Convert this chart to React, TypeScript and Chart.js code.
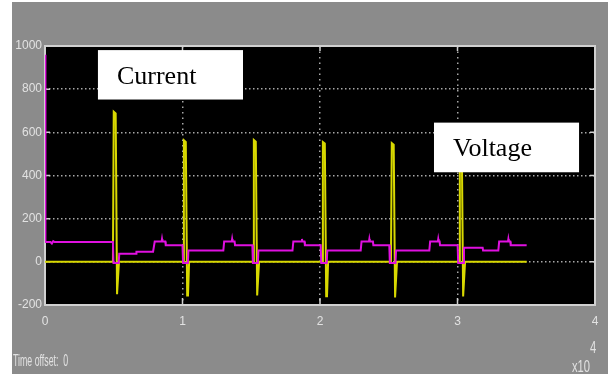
import React, { useEffect, useRef } from "react";
import { Chart, registerables } from "chart.js";

Chart.register(...registerables);

// ---- data (time in units of 1e-4 s) ----
const xTicks = [0, 1, 2, 3, 4];
const yTicks = [-200, 0, 200, 400, 600, 800, 1000];

const currentT = [
  0, 0.494, 0.5, 0.514, 0.524, 0.53, 0.538,
  1.004, 1.01, 1.024, 1.034, 1.04, 1.048,
  1.513, 1.519, 1.533, 1.543, 1.549, 1.557,
  2.015, 2.021, 2.035, 2.045, 2.051, 2.059,
  2.516, 2.522, 2.536, 2.546, 2.552, 2.56,
  3.011, 3.017, 3.031, 3.041, 3.047, 3.055,
  3.503,
];
const currentV = [
  0, 0, 696, 688, -150, -150, 0,
  0, 563, 555, -156, -156, 0,
  0, 565, 557, -156, -156, 0,
  0, 555, 548, -160, -160, 0,
  0, 550, 543, -165, -165, 0,
  0, 560, 552, -160, -160, 0,
  0,
];

const voltageT = [
  0, 0.003, 0.04, 0.05, 0.06, 0.07,
  0.494, 0.498, 0.536, 0.54, 0.662, 0.665, 0.786, 0.798, 0.848, 0.851, 0.854, 0.875, 0.878,
  1.0, 1.004, 1.039, 1.043, 1.297, 1.303, 1.358, 1.361, 1.364, 1.379, 1.382,
  1.508, 1.512, 1.548, 1.552, 1.8, 1.806, 1.866, 1.869, 1.872, 1.887, 1.89,
  2.005, 2.009, 2.049, 2.053, 2.296, 2.302, 2.356, 2.359, 2.362, 2.385, 2.388,
  2.504, 2.508, 2.549, 2.553, 2.795, 2.801, 2.857, 2.86, 2.863, 2.87, 2.873,
  3.001, 3.005, 3.043, 3.047, 3.183, 3.186, 3.297, 3.303, 3.367, 3.37, 3.373, 3.384, 3.387, 3.503,
];
const voltageV = [
  960, 92, 92, 85, 96, 92,
  92, -5, -5, 37, 37, 47, 47, 94, 94, 106, 94, 94, 77,
  77, -5, -5, 53, 53, 94, 94, 106, 94, 94, 77,
  77, -5, -5, 53, 53, 94, 94, 106, 94, 94, 77,
  77, -5, -5, 53, 53, 94, 94, 106, 94, 94, 77,
  77, -5, -5, 53, 53, 94, 94, 106, 94, 94, 77,
  77, -5, -5, 65, 65, 53, 53, 94, 94, 106, 94, 94, 77, 77,
];

const annotations = [
  { text: "Current", x0: 0.385, x1: 1.44, yTop: 981, yBottom: 752 },
  { text: "Voltage", x0: 2.829, x1: 3.884, yTop: 645, yBottom: 415 },
];

const timeOffsetText = "Time offset:  0";
const exponentBase = "x10";
const exponentPower = "4";

const SANS = "'Liberation Sans', Arial, sans-serif";
const LABEL_COLOR = "#e2e2e2";

function narrowText(ctx: CanvasRenderingContext2D, text: string, x: number, y: number, sx: number) {
  ctx.save();
  ctx.translate(x, y);
  ctx.scale(sx, 1);
  ctx.fillText(text, 0, 0);
  ctx.restore();
}

export default function App() {
  const ref = useRef<HTMLCanvasElement | null>(null);

  useEffect(() => {
    document.body.style.margin = "0";
    const canvas = ref.current;
    if (!canvas) return;

    const bgPlugin = {
      id: "scopeBg",
      beforeDraw(chart: any) {
        const { ctx, chartArea } = chart;
        ctx.save();
        ctx.fillStyle = "#ffffff";
        ctx.fillRect(0, 0, chart.width, chart.height);
        ctx.fillStyle = "#8b8b8b";
        ctx.fillRect(12, 2, chart.width - 12, 372);
        ctx.fillStyle = "#000000";
        ctx.fillRect(chartArea.left, chartArea.top, chartArea.right - chartArea.left, chartArea.bottom - chartArea.top);
        ctx.restore();
      },
      beforeDatasetsDraw(chart: any) {
        const { ctx, chartArea } = chart;
        const xs = chart.scales.x;
        const ys = chart.scales.y;
        ctx.save();
        ctx.strokeStyle = "#d0d0d0";
        ctx.lineWidth = 2;
        ctx.strokeRect(chartArea.left, chartArea.top, chartArea.right - chartArea.left, chartArea.bottom - chartArea.top);
        ctx.lineWidth = 1.5;
        ctx.beginPath();
        yTicks.forEach((v) => {
          const py = ys.getPixelForValue(v);
          ctx.moveTo(chartArea.left, py);
          ctx.lineTo(chartArea.left + 5, py);
          ctx.moveTo(chartArea.right - 5, py);
          ctx.lineTo(chartArea.right, py);
        });
        xTicks.forEach((v) => {
          const px = xs.getPixelForValue(v);
          ctx.moveTo(px, chartArea.bottom);
          ctx.lineTo(px, chartArea.bottom - 7);
          ctx.moveTo(px, chartArea.top);
          ctx.lineTo(px, chartArea.top + 5);
        });
        ctx.stroke();
        ctx.restore();
      },
      afterDraw(chart: any) {
        const { ctx, chartArea } = chart;
        const xs = chart.scales.x;
        const ys = chart.scales.y;
        ctx.save();
        annotations.forEach((a) => {
          const l = xs.getPixelForValue(a.x0);
          const r = xs.getPixelForValue(a.x1);
          const t = ys.getPixelForValue(a.yTop);
          const b = ys.getPixelForValue(a.yBottom);
          ctx.fillStyle = "#ffffff";
          ctx.fillRect(l, t, r - l, b - t);
          ctx.fillStyle = "#000000";
          ctx.font = "26px 'Liberation Serif', 'Times New Roman', serif";
          ctx.textAlign = "left";
          ctx.textBaseline = "alphabetic";
          ctx.fillText(a.text, l + 19, (t + b) / 2 + 9);
        });
        ctx.fillStyle = LABEL_COLOR;
        ctx.font = `16px ${SANS}`;
        ctx.textAlign = "left";
        ctx.textBaseline = "alphabetic";
        narrowText(ctx, timeOffsetText, 13, 366, 0.55);
        narrowText(ctx, exponentBase, chartArea.right - 23, 372, 0.7);
        narrowText(ctx, exponentPower, chartArea.right - 5, 353, 0.7);
        ctx.restore();
      },
    };

    const chart = new Chart(canvas, {
      type: "line",
      data: {
        datasets: [
          {
            label: "Voltage",
            data: voltageT.map((t, i) => ({ x: t, y: voltageV[i] })),
            borderColor: "#e010e0",
            borderWidth: 2,
            pointRadius: 0,
            tension: 0,
            fill: false,
            order: 0,
          },
          {
            label: "Current",
            data: currentT.map((t, i) => ({ x: t, y: currentV[i] })),
            borderColor: "#d8d800",
            borderWidth: 2,
            pointRadius: 0,
            tension: 0,
            fill: false,
            order: 1,
          },
        ],
      },
      options: {
        animation: false,
        responsive: false,
        maintainAspectRatio: false,
        layout: { padding: { left: 0, right: 13, top: 46, bottom: 55 } },
        plugins: { legend: { display: false }, tooltip: { enabled: false } },
        scales: {
          x: {
            type: "linear",
            min: 0,
            max: 4,
            afterBuildTicks: (s: any) => {
              s.ticks = xTicks.map((v) => ({ value: v }));
            },
            afterFit: (s: any) => {
              s.height = 20;
            },
            grid: { color: "#a8a8a8", lineWidth: 1.5, drawTicks: false },
            border: { display: false, dash: [1.5, 4] },
            ticks: {
              color: LABEL_COLOR,
              font: { family: SANS, size: 12 },
              padding: 9,
              maxRotation: 0,
              autoSkip: false,
              callback: (v: any) => String(v),
            },
          },
          y: {
            type: "linear",
            min: -200,
            max: 1000,
            afterBuildTicks: (s: any) => {
              s.ticks = yTicks.map((v) => ({ value: v }));
            },
            afterFit: (s: any) => {
              s.width = 45;
            },
            grid: { color: "#a8a8a8", lineWidth: 1.5, drawTicks: false },
            border: { display: false, dash: [1.5, 2.5] },
            ticks: {
              color: LABEL_COLOR,
              font: { family: SANS, size: 12 },
              padding: 3,
              autoSkip: false,
              callback: (v: any) => String(v),
            },
          },
        },
      },
      plugins: [bgPlugin],
    });

    return () => chart.destroy();
  }, []);

  return (
    <div style={{ width: 608, height: 380 }}>
      <canvas ref={ref} width={608} height={380} style={{ display: "block" }} />
    </div>
  );
}
